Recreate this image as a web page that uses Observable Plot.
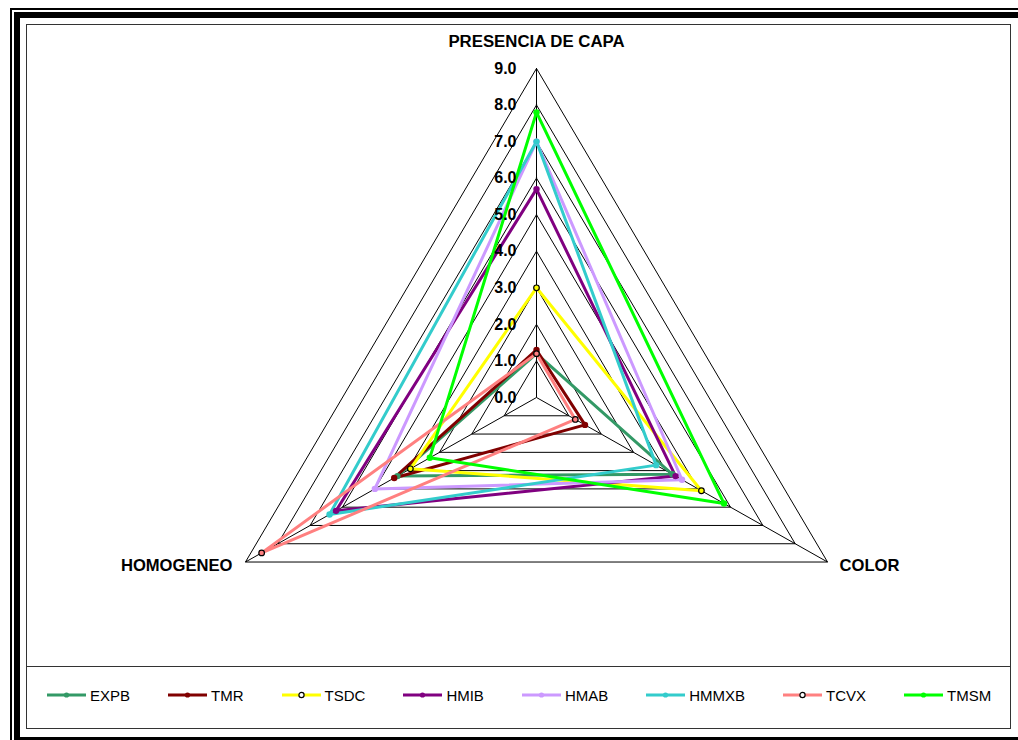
<!DOCTYPE html>
<html>
<head>
<meta charset="utf-8">
<script src="https://cdn.jsdelivr.net/npm/d3@7"></script>
<script src="https://cdn.jsdelivr.net/npm/@observablehq/plot@0.6"></script>
<style>
  html, body { margin: 0; padding: 0; background: #fff; overflow: hidden; width: 1018px; height: 740px; }
  body { position: relative; font-family: "Liberation Sans", Arial, sans-serif; }
  .frame-thin { position: absolute; left: 10px; top: 8px; width: 1040px; height: 740px; border: 2px solid #000; box-sizing: border-box; }
  .frame-thick { position: absolute; left: 14px; top: 12px; width: 1040px; height: 731px; border: 6px solid #000; box-sizing: border-box; }
  .plot-area { position: absolute; left: 26px; top: 24px; width: 985px; height: 705px; border: 1.5px solid #333; box-sizing: border-box; }
  .divider { position: absolute; left: 26px; top: 666px; width: 985px; height: 0; border-top: 1.5px solid #333; }
  #chart { position: absolute; left: 0; top: 0; }
  #legend { position: absolute; left: 47px; top: 684px; display: flex; gap: 38px; align-items: center; height: 22px; }
  .item { display: flex; align-items: center; gap: 4px; font-size: 15px; color: #000; }
  .item svg { display: block; }
</style>
</head>
<body>
<div class="frame-thin"></div>
<div class="frame-thick"></div>
<div class="plot-area"></div>
<div class="divider"></div>
<div id="chart"></div>
<div id="legend"></div>
<script>
// Radar axes, clockwise from the top
const axes = ["PRESENCIA DE CAPA", "COLOR", "HOMOGENEO"];
// Series names and colours
const series = ["EXPB", "TMR", "TSDC", "HMIB", "HMAB", "HMMXB", "TCVX", "TMSM"];
const colors = ["#339966", "#800000", "#FFFF00", "#800080", "#CC99FF", "#33CCCC", "#FF8080", "#00FF00"];
// Series that use a hollow (outlined) marker
const hollow = ["TSDC", "TCVX"];
// Values per axis, in series order
const presencia = [1.2, 1.3, 3.0, 5.7, 7.0, 7.0, 1.2, 7.8];
const color = [4.2, 1.5, 5.1, 4.3, 4.5, 3.7, 1.2, 5.8];
const homogeneo = [4.3, 4.4, 3.9, 6.2, 5.0, 6.4, 8.5, 3.3];
// Value axis
const ticks = [0, 1, 2, 3, 4, 5, 6, 7, 8, 9];
const maxValue = 9;

const valuesByAxis = [presencia, color, homogeneo];
const angle = i => (i * 2 * Math.PI) / axes.length;
const polar = (i, r) => ({ px: r * Math.sin(angle(i)), py: r * Math.cos(angle(i)) });

// Polygon rows (closed by repeating the first axis)
const rows = [];
const dots = [];
series.forEach((s, k) => {
  for (let j = 0; j <= axes.length; j++) {
    const i = j % axes.length;
    const v = valuesByAxis[i][k];
    const p = polar(i, v);
    rows.push({ series: s, color: colors[k], ...p });
    if (j < axes.length) dots.push({ series: s, color: colors[k], hollow: hollow.includes(s), ...p });
  }
});

// Triangular grid at each tick level
const grid = [];
ticks.filter(t => t > 0).forEach(t => {
  for (let j = 0; j <= axes.length; j++) grid.push({ level: t, ...polar(j % axes.length, t) });
});
const spokes = axes.map((a, i) => ({ axis: a, ...polar(i, maxValue) }));

// Pixel geometry of the drawing surface
const W = 1018, H = 660;
const cx = 536, cy = 397;
const kx = 37.34, ky = 36.56; // pixels per value unit
const font = "Liberation Sans, Arial, sans-serif";

const chart = Plot.plot({
  width: W,
  height: H,
  margin: 0,
  style: { background: "none", overflow: "visible" },
  x: { domain: [-cx / kx, (W - cx) / kx], axis: null },
  y: { domain: [(cy - H) / ky, cy / ky], axis: null },
  marks: [
    Plot.line(grid, { x: "px", y: "py", z: "level", stroke: "#000", strokeWidth: 1 }),
    Plot.link(spokes, { x1: 0, y1: 0, x2: "px", y2: "py", stroke: "#000", strokeWidth: 1 }),
    Plot.line(rows, { x: "px", y: "py", z: "series", stroke: "color", strokeWidth: 3, strokeLinejoin: "miter", curve: "linear" }),
    Plot.dot(dots.filter(d => !d.hollow), { x: "px", y: "py", r: 3.2, fill: "color", stroke: "none" }),
    Plot.dot(dots.filter(d => d.hollow), { x: "px", y: "py", r: 2.8, fill: "color", stroke: "#000", strokeWidth: 1.2 }),
    Plot.text(ticks, {
      x: () => 0, y: d => d, text: d => d.toFixed(1),
      textAnchor: "end", dx: -20, fontSize: 16, fontWeight: "bold", fill: "#000", fontFamily: font
    }),
    Plot.text(spokes.slice(0, 1), {
      x: "px", y: "py", text: "axis", dy: -27, textAnchor: "middle",
      fontSize: 16.8, fontWeight: "bold", fill: "#000", fontFamily: font
    }),
    Plot.text(spokes.slice(1, 2), {
      x: "px", y: "py", text: "axis", dx: 12, dy: 4, textAnchor: "start",
      fontSize: 16.6, fontWeight: "bold", fill: "#000", fontFamily: font
    }),
    Plot.text(spokes.slice(2, 3), {
      x: "px", y: "py", text: "axis", dx: -13, dy: 4, textAnchor: "end",
      fontSize: 16.6, fontWeight: "bold", fill: "#000", fontFamily: font
    })
  ]
});
document.getElementById("chart").appendChild(chart);

// Legend row
const legend = document.getElementById("legend");
series.forEach((s, k) => {
  const item = document.createElement("div");
  item.className = "item";
  const isHollow = hollow.includes(s);
  item.innerHTML =
    `<svg width="39" height="10"><line x1="0" x2="39" y1="5" y2="5" stroke="${colors[k]}" stroke-width="3"/>` +
    (isHollow
      ? `<circle cx="19.5" cy="5" r="2.6" fill="#fff" stroke="#000" stroke-width="1.2"/>`
      : `<circle cx="19.5" cy="5" r="2.6" fill="${colors[k]}"/>`) +
    `</svg><span>${s}</span>`;
  legend.appendChild(item);
});
</script>
</body>
</html>
